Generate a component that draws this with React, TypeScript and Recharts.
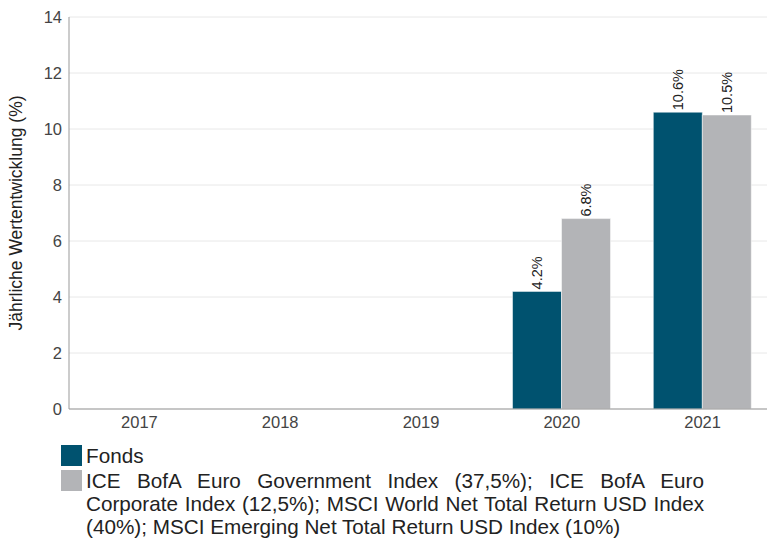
import React from "react";
import { Bar, BarChart, CartesianGrid, LabelList, XAxis, YAxis } from "recharts";

const years = ["2017", "2018", "2019", "2020", "2021"];
const fondsValues: (number | null)[] = [null, null, null, 4.2, 10.6];
const benchmarkValues: (number | null)[] = [null, null, null, 6.8, 10.5];
const yTicks = [0, 2, 4, 6, 8, 10, 12, 14];

const FONDS_COLOR = "#00526F";
const BENCH_COLOR = "#B3B4B7";
const fondsName = "Fonds";
const benchName =
  "ICE BofA Euro Government Index (37,5%); ICE BofA Euro Corporate Index (12,5%); MSCI World Net Total Return USD Index (40%); MSCI Emerging Net Total Return USD Index (10%)";

const data = years.map((year, i) => ({
  year,
  fonds: fondsValues[i],
  bench: benchmarkValues[i],
}));

const FONT = "'Liberation Sans', Arial, sans-serif";

function BarValueLabel(props: any) {
  const { x, y, width, value } = props;
  if (value == null) return null;
  const cx = Number(x) + Number(width) / 2;
  const ty = Number(y) - 2;
  return (
    <text
      x={cx}
      y={ty}
      transform={`rotate(-90 ${cx} ${ty})`}
      textAnchor="start"
      dominantBaseline="central"
      fontSize={14.5}
      fill="#222"
      fontFamily={FONT}
    >
      {`${Number(value).toFixed(1)}%`}
    </text>
  );
}

function LegendRow({ color, text }: { color: string; text: string }) {
  return (
    <div style={{ display: "flex", alignItems: "flex-start", marginBottom: 2 }}>
      <div style={{ width: 21, height: 21, background: color, flex: "0 0 auto", marginTop: 1 }} />
      <div
        style={{
          marginLeft: 4,
          width: 618,
          fontSize: 20.7,
          lineHeight: "23px",
          color: "#222",
          textAlign: "justify",
          fontFamily: FONT,
        }}
      >
        {text}
      </div>
    </div>
  );
}

export default function App() {
  return (
    <div
      style={{
        position: "absolute",
        left: 0,
        top: 0,
        width: 767,
        height: 538,
        overflow: "hidden",
        background: "#fff",
        fontFamily: FONT,
      }}
    >
      <BarChart
        width={773}
        height={440}
        data={data}
        margin={{ top: 17, right: 0, left: 0, bottom: 0 }}
        barCategoryGap="15%"
        barGap={0}
      >
        <CartesianGrid stroke="#E8E8E8" vertical={false} />
        <XAxis
          dataKey="year"
          height={31}
          tickSize={0}
          tickMargin={7}
          tick={{ fontSize: 16.5, fill: "#444", fontFamily: FONT }}
          axisLine={{ stroke: "#999" }}
          tickLine={false}
        />
        <YAxis
          width={69}
          domain={[0, 14]}
          ticks={yTicks}
          interval={0}
          tickSize={0}
          tickMargin={7}
          tick={{ fontSize: 16.5, fill: "#444", fontFamily: FONT }}
          axisLine={{ stroke: "#999" }}
          tickLine={false}
          label={{
            value: "Jährliche Wertentwicklung (%)",
            angle: -90,
            position: "insideLeft",
            offset: 16,
            style: { textAnchor: "middle", fontSize: 17.5, fill: "#222", fontFamily: FONT },
          }}
        />
        <Bar dataKey="fonds" name={fondsName} fill={FONDS_COLOR} stroke="#fff" strokeWidth={0.5} isAnimationActive={false}>
          <LabelList dataKey="fonds" content={BarValueLabel} />
        </Bar>
        <Bar dataKey="bench" name="Benchmark" fill={BENCH_COLOR} stroke="#fff" strokeWidth={0.5} isAnimationActive={false}>
          <LabelList dataKey="bench" content={BarValueLabel} />
        </Bar>
      </BarChart>
      <div style={{ position: "absolute", left: 61, top: 444 }}>
        <LegendRow color={FONDS_COLOR} text={fondsName} />
        <LegendRow color={BENCH_COLOR} text={benchName} />
      </div>
    </div>
  );
}
